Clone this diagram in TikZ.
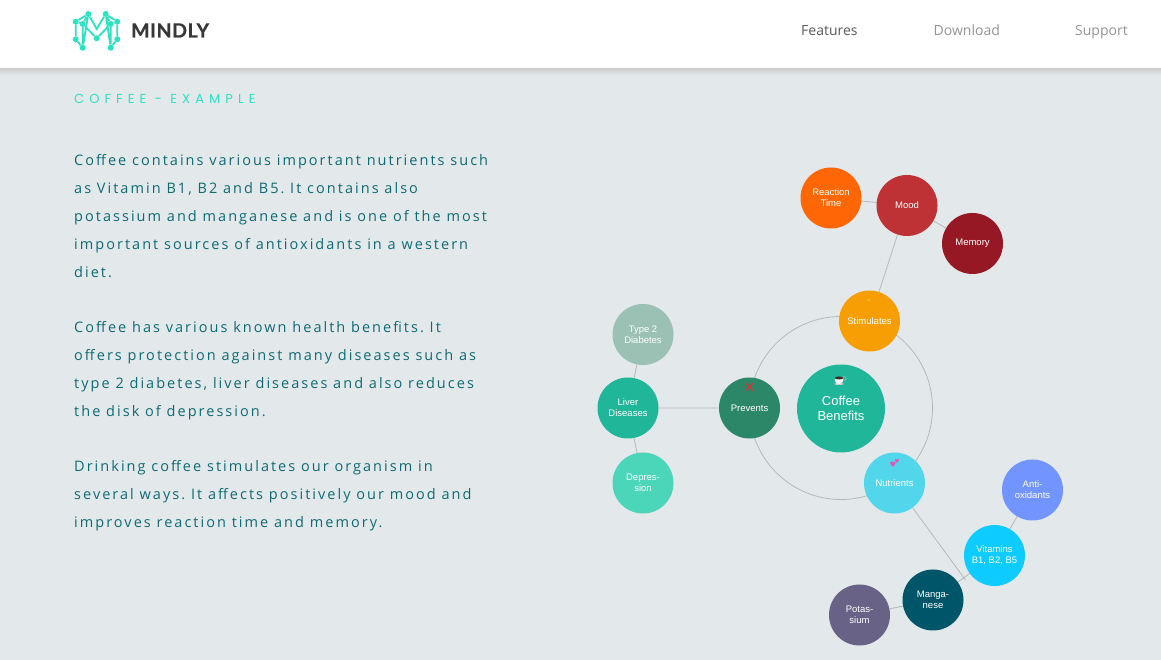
\documentclass[tikz,border=0pt]{standalone}
\usepackage{fontspec}
\usetikzlibrary{backgrounds}
\setmainfont{Liberation Sans}
\newfontfamily\bodyfont[LetterSpace=14]{Open Sans}
\newfontfamily\navfont{Open Sans}
\newfontfamily\titlefont[LetterSpace=39]{Poppins}
\newfontfamily\brandfont[LetterSpace=3,FakeBold=.6]{Lato}
\newfontfamily\symbolfont{DejaVu Sans}
\definecolor{pagebg}{HTML}{E3E8EB}
\definecolor{mint}{HTML}{2BE3C0}
\definecolor{bodytxt}{HTML}{0F6B72}
\definecolor{cCoffee}{HTML}{20B69A}
\definecolor{cStim}{HTML}{F79E04}
\definecolor{cPrev}{HTML}{2C8769}
\definecolor{cNutr}{HTML}{52D6EC}
\definecolor{cType}{HTML}{9BC0B4}
\definecolor{cDepr}{HTML}{4BD6BA}
\definecolor{cReact}{HTML}{FF6706}
\definecolor{cMood}{HTML}{BE3135}
\definecolor{cMem}{HTML}{961825}
\definecolor{cAnti}{HTML}{7294FF}
\definecolor{cVita}{HTML}{0ECCFF}
\definecolor{cMang}{HTML}{015568}
\definecolor{cPota}{HTML}{686287}
\definecolor{cSpark}{HTML}{F5C23C}
\definecolor{cCross}{HTML}{DC3232}
\definecolor{cHeart}{HTML}{EB50B4}
\definecolor{cBrew}{HTML}{3A2A20}
\tikzset{
  x=1pt,y=1pt,
  bodyline/.style={anchor=base west,inner sep=0,text=bodytxt,font=\bodyfont\frenchspacing\fontsize{14.5}{16}\selectfont},
  navitem/.style={anchor=base west,inner sep=0,font=\navfont\fontsize{14}{16}\selectfont},
  bubble/.style={circle,inner sep=0,minimum size=61pt,align=center,text=white,font=\fontsize{9.5}{10.8}\selectfont},
  conn/.style={draw=black!28,line width=.8pt},
  logoline/.style={draw=mint,line width=1.8pt},
  logodot/.style={circle,fill=mint,inner sep=0,minimum size=6pt},
  emoji/.style={inner sep=0}
}
\begin{document}
\begin{tikzpicture}
\useasboundingbox (0,0) rectangle (1161,660);
\begin{pgfonlayer}{background}
\fill[pagebg] (0,0) rectangle (1161,660);
\end{pgfonlayer}
% header
\shade[top color=black!20,bottom color=pagebg] (0,592) rectangle (1161,585);
\fill[white] (0,592) rectangle (1161,660);
% logo
\foreach \n/\px/\py in {a/88.3/14,b/105.7/14,c/75.7/21.7,d/82.7/24,e/117.3/21.7,f/110.7/24,g/75.7/39.3,h/82.7/47.7,i/96.7/38.3,j/117.3/39.3,k/110.7/47.7}{
  \node[logodot] (l\n) at (\px,660-\py) {};
}
\coordinate (lm) at (96.7,631);
\draw[logoline] (lc)--(la)--(ld)--(lc)--(lg)--(lh)--(ld) (la)--(lm)--(lb)--(le)--(lf)--(lb) (ld)--(li)--(lf)--(lk)--(lj)--(le) (la)--(lh) (lb)--(lk);
\node[anchor=base west,inner sep=0,text=black!78,font=\brandfont\bfseries\fontsize{19.5}{22}\selectfont] (brand) at (131,622.5) {MINDLY};
\node[navitem,text=black!65] (nav1) at (801,624.5) {Features};
\node[navitem,text=black!42] (nav2) at (933.5,624.5) {Download};
\node[navitem,text=black!42] (nav3) at (1075,624.5) {Support};
\node[anchor=base west,inner sep=0,text=mint,font=\titlefont\fontsize{13}{14}\selectfont] (title) at (74,556) {COFFEE - EXAMPLE};
% body text
\node[bodyline] (p1) at (74,494.5) {Coffee contains various important nutrients such};
\node[bodyline] (p2) at (74,466.5) {as Vitamin B1, B2 and B5. It contains also};
\node[bodyline] (p3) at (74,438.5) {potassium and manganese and is one of the most};
\node[bodyline] (p4) at (74,410.5) {important sources of antioxidants in a western};
\node[bodyline] (p5) at (74,382.5) {diet.};
\node[bodyline] (p6) at (74,327.5) {Coffee has various known health benefits. It};
\node[bodyline] (p7) at (74,299.5) {offers protection against many diseases such as};
\node[bodyline] (p8) at (74,271.5) {type 2 diabetes, liver diseases and also reduces};
\node[bodyline] (p9) at (74,243.5) {the disk of depression.};
\node[bodyline] (p10) at (74,188.5) {Drinking coffee stimulates our organism in};
\node[bodyline] (p11) at (74,160.5) {several ways. It affects positively our mood and};
\node[bodyline] (p12) at (74,132.5) {improves reaction time and memory.};
% mind map
\node[circle,draw=black!28,line width=.8pt,minimum size=183pt,inner sep=0] (ring) at (841,252) {};
\node[bubble,fill=cCoffee,minimum size=88pt,font=\fontsize{13}{14.5}\selectfont] (coffee) at (841,251.5) {Coffee\\Benefits};
\node[bubble,fill=cStim] (stim) at (869.5,339) {Stimulates};
\node[bubble,fill=cPrev] (prev) at (749.5,252) {Prevents};
\node[bubble,fill=cNutr] (nutr) at (894.5,177) {Nutrients};
\node[bubble,fill=cType] (type2) at (643,325.5) {Type 2\\Diabetes};
\node[bubble,fill=cCoffee] (liver) at (628,252) {Liver\\Diseases};
\node[bubble,fill=cDepr] (depr) at (643,177) {Depres-\\sion};
\node[bubble,fill=cReact] (react) at (831,462) {Reaction\\Time};
\node[bubble,fill=cMood] (mood) at (907,454.5) {Mood};
\node[bubble,fill=cMem] (mem) at (972.5,416.5) {Memory};
\node[bubble,fill=cAnti] (anti) at (1032.5,170) {Anti-\\oxidants};
\node[bubble,fill=cVita] (vita) at (994.5,104.5) {Vitamins\\B1, B2, B5};
\node[bubble,fill=cMang] (mang) at (933,60) {Manga-\\nese};
\node[bubble,fill=cPota] (pota) at (859.5,45) {Potas-\\sium};
\coordinate (hub) at (965.5,80);
\begin{pgfonlayer}{background}
\draw[conn] (prev)--(liver) (liver)--(type2) (liver)--(depr);
\draw[conn] (stim)--(mood) (mood)--(react) (mood)--(mem);
\draw[conn] (nutr)--(hub) (mang)--(vita) (vita)--(anti) (mang)--(pota);
\end{pgfonlayer}
% emoji
\node[emoji,text=cSpark,font=\symbolfont\fontsize{5.5}{6}\selectfont] (spark) at (869,359.5) {✦};
\node[emoji,text=cCross,font=\symbolfont\fontsize{14}{14}\selectfont] (cross) at (749.5,272.5) {✕};
\node[emoji,text=cHeart,font=\symbolfont\fontsize{7.5}{8}\selectfont] (heartA) at (893,195) {♥};
\node[emoji,text=cHeart,font=\symbolfont\fontsize{5.5}{6}\selectfont] (heartB) at (897,198.5) {♥};
% coffee cup
\draw[white!70!black,line width=.7pt] (844,281.5) ellipse (2.2 and 1.8);
\fill[white!80!black] (839,276) ellipse (5 and 1);
\fill[white] (834.7,282) .. controls (835,277) and (836.5,276) .. (839,276) .. controls (841.5,276) and (843,277) .. (843.3,282) -- cycle;
\fill[cBrew] (839,282) ellipse (4.3 and 1.5);
\end{tikzpicture}
\end{document}
